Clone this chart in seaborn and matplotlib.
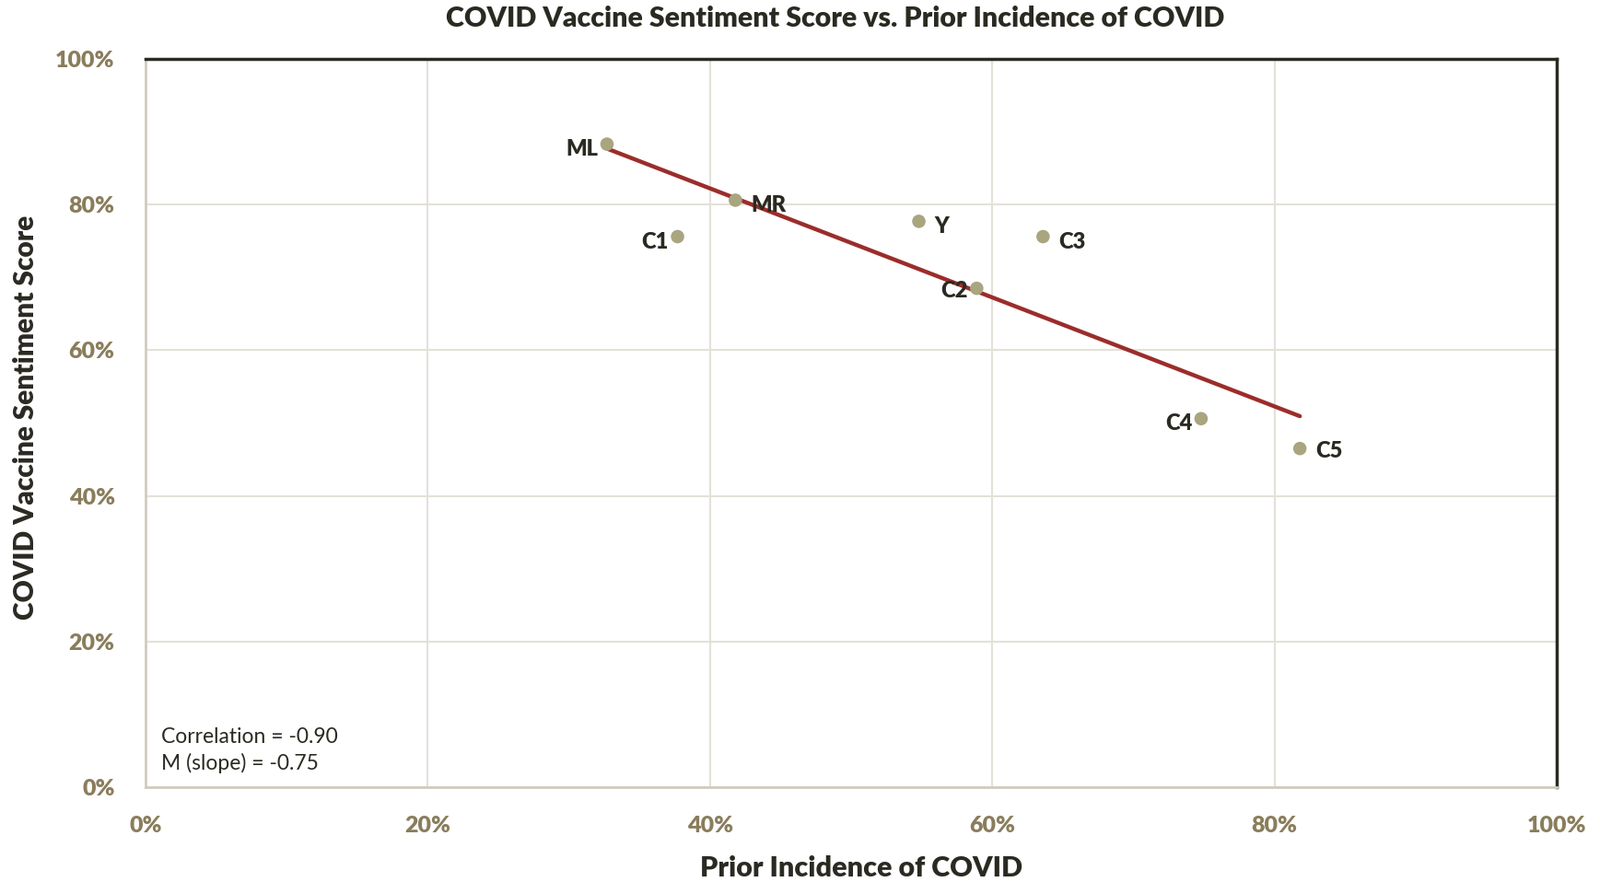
import numpy as np
import pandas as pd
import seaborn as sns
import matplotlib.pyplot as plt
from matplotlib.ticker import PercentFormatter

# Data
groups = ['ML', 'MR', 'C1', 'Y', 'C3', 'C2', 'C4', 'C5']
prior_incidence = [0.327, 0.418, 0.377, 0.548, 0.636, 0.589, 0.748, 0.818]
sentiment = [0.883, 0.806, 0.756, 0.777, 0.756, 0.685, 0.506, 0.465]
label_side = ['left', 'right', 'left', 'right', 'right', 'left', 'left', 'right']
df = pd.DataFrame({'group': groups, 'x': prior_incidence, 'y': sentiment, 'side': label_side})

sns.set_theme(style='white')
plt.rcParams['font.family'] = ['Lato', 'DejaVu Sans']

fig = plt.figure(figsize=(17.37, 9.58), dpi=100)
ax = fig.add_axes([158 / 1737, 1 - 855 / 958, (1690 - 158) / 1737, (855 - 64) / 958])

dark = '#2b2a22'
tan = '#8a7d5c'
grid_c = '#e3e1d8'

# Trend line and points
sns.regplot(data=df, x='x', y='y', ax=ax, scatter=False, ci=None,
            line_kws={'color': '#9b2d2a', 'lw': 3.2, 'zorder': 2})
sns.scatterplot(data=df, x='x', y='y', ax=ax, color='#a9a57f', s=110,
                edgecolor='none', zorder=3)

for _, r in df.iterrows():
    right = r['side'] == 'right'
    off = 12 if right else -7
    ha = 'left' if right else 'right'
    dy = -4
    if r['group'] in ('C2', 'C5'):
        dy = -2
    ax.annotate(r['group'], (r['x'], r['y']), xytext=(off, dy), textcoords='offset points',
                ha=ha, va='center', fontsize=17, fontweight='heavy', color=dark)

ax.set_xlim(0, 1)
ax.set_ylim(0, 1)
ax.set_xticks(np.arange(0, 1.01, 0.2))
ax.set_yticks(np.arange(0, 1.01, 0.2))
ax.xaxis.set_major_formatter(PercentFormatter(1, decimals=0))
ax.yaxis.set_major_formatter(PercentFormatter(1, decimals=0))
ax.tick_params(axis='both', length=0, labelsize=18, labelcolor=tan)
ax.tick_params(axis='x', pad=22)
ax.tick_params(axis='y', pad=24)
for lab in ax.get_xticklabels() + ax.get_yticklabels():
    lab.set_fontweight('heavy')

ax.grid(True, color=grid_c, lw=1.5)
ax.set_axisbelow(True)
ax.spines['top'].set_color(dark)
ax.spines['right'].set_color(dark)
ax.spines['top'].set_linewidth(2.5)
ax.spines['right'].set_linewidth(2.5)
ax.spines['left'].set_color('#cfccc0')
ax.spines['bottom'].set_color('#cfccc0')
ax.spines['left'].set_linewidth(2)
ax.spines['bottom'].set_linewidth(2)

ax.set_xlabel('Prior Incidence of COVID', fontsize=22, fontweight='heavy', color=dark)
ax.set_ylabel('COVID Vaccine Sentiment Score', fontsize=21.5, fontweight='heavy', color=dark)
ax.xaxis.set_label_coords((935 - 158) / 1532, -(943 - 855) / 791)
ax.xaxis.label.set_va('center')
ax.yaxis.set_label_coords(-(158 - 28) / 1532, 0.508)
ax.yaxis.label.set_va('center')

ax.text(0.011, 0.0695, 'Correlation = -0.90', transform=ax.transAxes,
        fontsize=16.5, color=dark, ha='left', va='center')
ax.text(0.011, 0.0329, 'M (slope) = -0.75', transform=ax.transAxes,
        fontsize=16.5, color=dark, ha='left', va='center')

fig.text(0.522, 1 - 20 / 958, 'COVID Vaccine Sentiment Score vs. Prior Incidence of COVID',
         ha='center', va='center', fontsize=21.8, fontweight='heavy', color=dark)

fig.savefig('out.png', dpi=100)
